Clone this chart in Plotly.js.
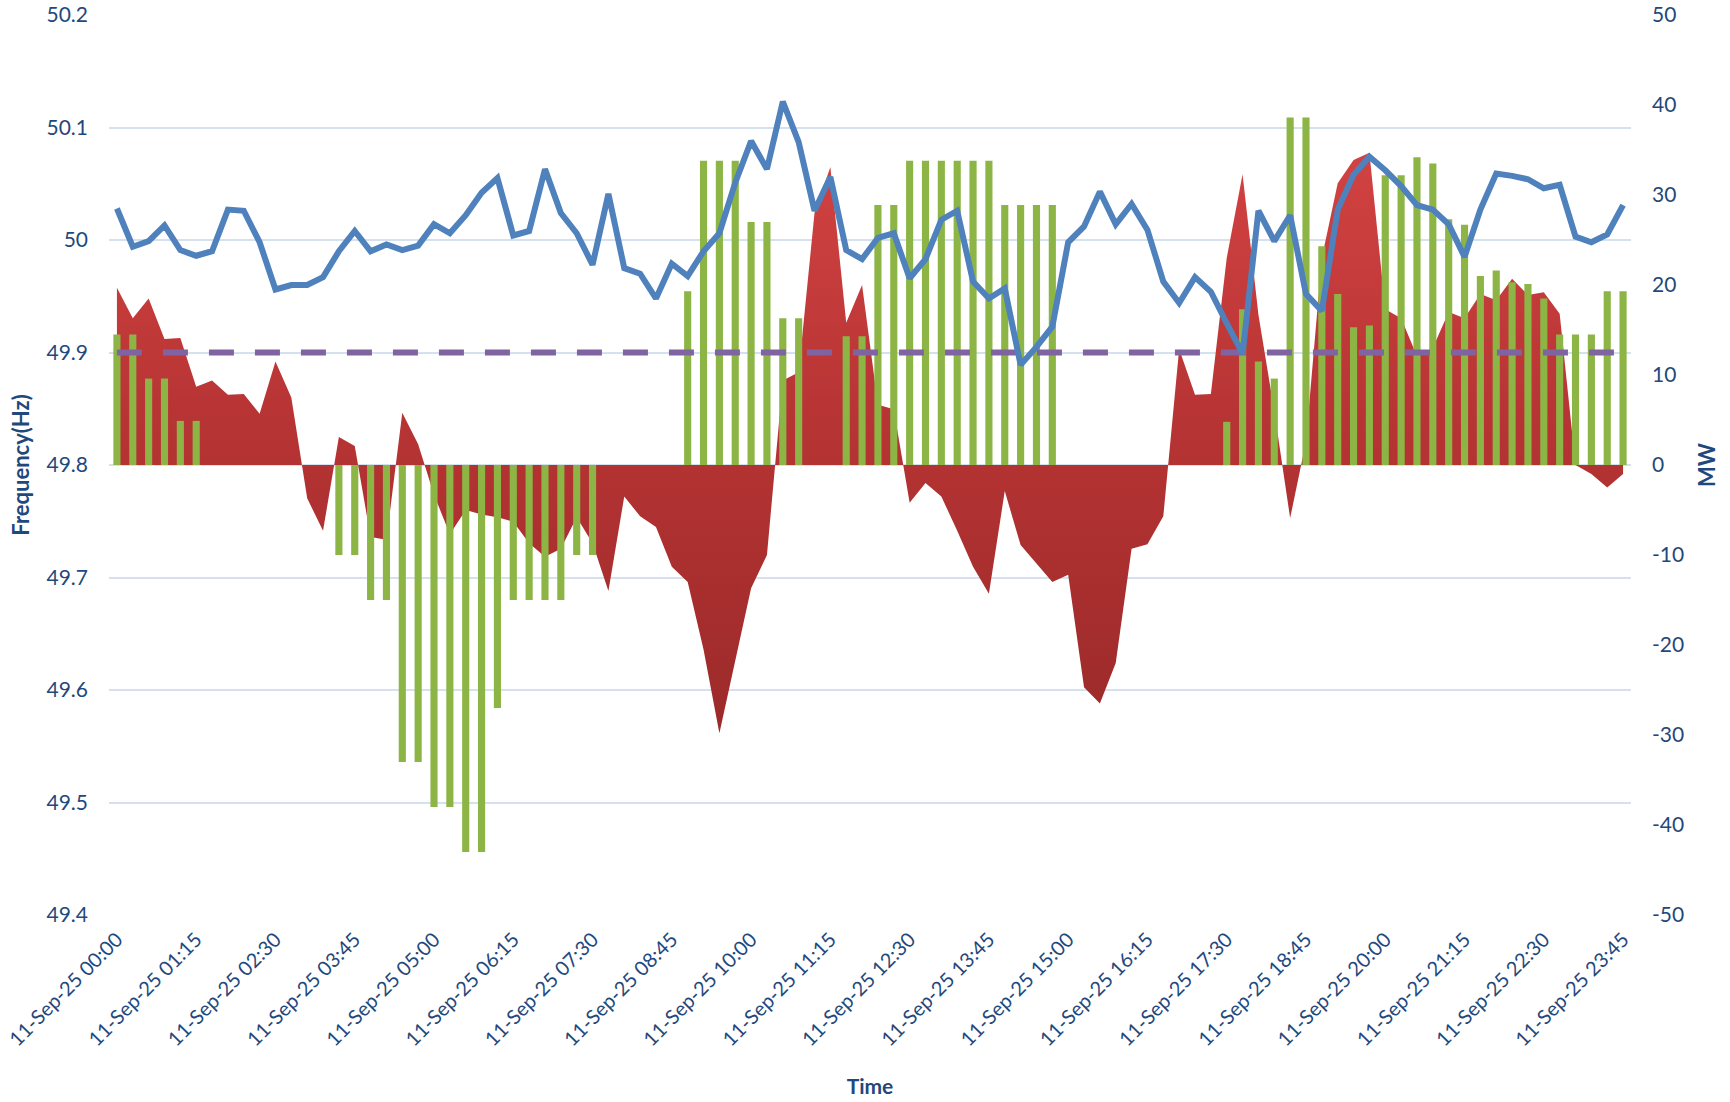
<!DOCTYPE html>
<html>
<head>
<meta charset="utf-8">
<script src="https://cdn.plot.ly/plotly-3.0.1.min.js"></script>
<style>
  html, body { margin: 0; padding: 0; background: #ffffff; }
  #chart { width: 1730px; height: 1102px; }
</style>
</head>
<body>
<div id="chart"></div>
<script>
// ---- data ----
const datePrefix = "11-Sep-25 ";
const times = [
  "00:00","00:15","00:30","00:45","01:00","01:15","01:30","01:45",
  "02:00","02:15","02:30","02:45","03:00","03:15","03:30","03:45",
  "04:00","04:15","04:30","04:45","05:00","05:15","05:30","05:45",
  "06:00","06:15","06:30","06:45","07:00","07:15","07:30","07:45",
  "08:00","08:15","08:30","08:45","09:00","09:15","09:30","09:45",
  "10:00","10:15","10:30","10:45","11:00","11:15","11:30","11:45",
  "12:00","12:15","12:30","12:45","13:00","13:15","13:30","13:45",
  "14:00","14:15","14:30","14:45","15:00","15:15","15:30","15:45",
  "16:00","16:15","16:30","16:45","17:00","17:15","17:30","17:45",
  "18:00","18:15","18:30","18:45","19:00","19:15","19:30","19:45",
  "20:00","20:15","20:30","20:45","21:00","21:15","21:30","21:45",
  "22:00","22:15","22:30","22:45","23:00","23:15","23:30","23:45"
];

// Frequency (Hz), left axis
const frequency = [
  50.028, 49.994, 49.999, 50.013, 49.991, 49.986, 49.990, 50.027,
  50.026, 49.998, 49.956, 49.960, 49.960, 49.967, 49.990, 50.008,
  49.990, 49.996, 49.991, 49.995, 50.014, 50.006, 50.022, 50.042,
  50.055, 50.004, 50.008, 50.063, 50.024, 50.006, 49.978, 50.041,
  49.975, 49.970, 49.948, 49.979, 49.968, 49.990, 50.006, 50.051,
  50.088, 50.063, 50.123, 50.087, 50.026, 50.056, 49.991, 49.983,
  50.002, 50.006, 49.966, 49.983, 50.018, 50.026, 49.963, 49.948,
  49.957, 49.889, 49.905, 49.923, 49.998, 50.012, 50.043, 50.014,
  50.032, 50.009, 49.963, 49.944, 49.967, 49.954, 49.926, 49.899,
  50.026, 49.999, 50.022, 49.952, 49.937, 50.027, 50.058, 50.074,
  50.062, 50.048, 50.031, 50.027, 50.014, 49.985, 50.027, 50.059,
  50.057, 50.054, 50.046, 50.049, 50.003, 49.998, 50.005, 50.031
];

// Frequency limit (Hz), dashed purple line
const frequencyLimit = [
  49.9, 49.9, 49.9, 49.9, 49.9, 49.9, 49.9, 49.9, 49.9, 49.9, 49.9, 49.9,
  49.9, 49.9, 49.9, 49.9, 49.9, 49.9, 49.9, 49.9, 49.9, 49.9, 49.9, 49.9,
  49.9, 49.9, 49.9, 49.9, 49.9, 49.9, 49.9, 49.9, 49.9, 49.9, 49.9, 49.9,
  49.9, 49.9, 49.9, 49.9, 49.9, 49.9, 49.9, 49.9, 49.9, 49.9, 49.9, 49.9,
  49.9, 49.9, 49.9, 49.9, 49.9, 49.9, 49.9, 49.9, 49.9, 49.9, 49.9, 49.9,
  49.9, 49.9, 49.9, 49.9, 49.9, 49.9, 49.9, 49.9, 49.9, 49.9, 49.9, 49.9,
  49.9, 49.9, 49.9, 49.9, 49.9, 49.9, 49.9, 49.9, 49.9, 49.9, 49.9, 49.9,
  49.9, 49.9, 49.9, 49.9, 49.9, 49.9, 49.9, 49.9, 49.9, 49.9, 49.9, 49.9
];

// Deviation (MW), red area, right axis
const deviationMW = [
  19.7, 16.3, 18.5, 14.0, 14.1, 8.7, 9.4, 7.8,
  7.9, 5.7, 11.5, 7.5, -3.7, -7.3, 3.1, 2.1,
  -8.0, -8.3, 5.8, 2.3, -3.3, -7.7, -5.0, -5.5,
  -5.8, -6.3, -8.7, -10.2, -9.3, -5.8, -8.7, -14.0,
  -3.5, -5.7, -6.9, -11.3, -13.0, -20.5, -29.8, -21.7,
  -13.7, -10.0, 9.4, 10.3, 28.0, 33.1, 15.8, 20.0,
  6.7, 6.2, -4.2, -2.0, -3.5, -7.3, -11.3, -14.3,
  -2.9, -8.9, -11.0, -13.0, -12.2, -24.7, -26.5, -22.0,
  -9.3, -8.8, -5.7, 12.9, 7.8, 7.9, 23.0, 32.3,
  16.7, 6.0, -5.9, 2.6, 23.0, 31.3, 33.9, 34.7,
  17.3, 16.3, 12.1, 13.0, 17.0, 16.3, 19.0, 18.3,
  20.7, 18.9, 19.2, 16.8, 0.0, -1.0, -2.5, -1.0
];

// Scheduled / regulation (MW), green bars, right axis
const regulationMW = [
  14.5, 14.5, 9.6, 9.6, 4.9, 4.9, 0, 0,
  0, 0, 0, 0, 0, 0, -10, -10,
  -15, -15, -33, -33, -38, -38, -43, -43,
  -27, -15, -15, -15, -15, -10, -10, 0,
  0, 0, 0, 0, 19.3, 33.8, 33.8, 33.8,
  27, 27, 16.3, 16.3, 0, 0, 14.3, 14.3,
  28.9, 28.9, 33.8, 33.8, 33.8, 33.8, 33.8, 33.8,
  28.9, 28.9, 28.9, 28.9, 0, 0, 0, 0,
  0, 0, 0, 0, 0, 0, 4.8, 17.3,
  11.5, 9.6, 38.6, 38.6, 24.3, 19.0, 15.3, 15.5,
  32.2, 32.2, 34.2, 33.5, 27.3, 26.7, 21.0, 21.6,
  20.3, 20.1, 18.5, 14.5, 14.5, 14.5, 19.3, 19.3
];

// Tick labels
const xTickTimes = ["00:00","01:15","02:30","03:45","05:00","06:15","07:30","08:45","10:00","11:15",
                    "12:30","13:45","15:00","16:15","17:30","18:45","20:00","21:15","22:30","23:45"];
const hzTicks = [49.4, 49.5, 49.6, 49.7, 49.8, 49.9, 50, 50.1, 50.2];
const hzTickText = ["49.4","49.5","49.6","49.7","49.8","49.9","50","50.1","50.2"];
const mwTicks = [-50, -40, -30, -20, -10, 0, 10, 20, 30, 40, 50];
const mwTickText = ["-50","-40","-30","-20","-10","0","10","20","30","40","50"];

// ---- build ----
const categories = times.map(t => datePrefix + t);
const xTickVals = xTickTimes.map(t => datePrefix + t);

const FONT = "Lato, 'Open Sans', 'Liberation Sans', sans-serif";
const TXT = "#1f497d";

const traces = [
  {
    type: "scatter", mode: "lines", name: "Deviation (MW)",
    x: categories, y: deviationMW, xaxis: "x", yaxis: "y",
    fill: "tozeroy",
    line: { width: 0, color: "rgba(0,0,0,0)", shape: "linear" },
    fillcolor: "#b83434",
    fillgradient: { type: "vertical", colorscale: [[0, "#9c2a2a"], [0.5, "#b53333"], [1, "#d24242"]] },
    hoverinfo: "x+y"
  },
  {
    type: "bar", name: "Regulation (MW)",
    x: categories, y: regulationMW, xaxis: "x", yaxis: "y2",
    width: 0.45,
    marker: { color: "#8cb546", line: { width: 0 } }
  },
  {
    type: "scatter", mode: "lines", name: "Frequency limit",
    x: categories, y: frequencyLimit, xaxis: "x", yaxis: "y3",
    line: { color: "#8064a2", width: 6, dash: "25px,21px" }
  },
  {
    type: "scatter", mode: "lines", name: "Frequency (Hz)",
    x: categories, y: frequency, xaxis: "x", yaxis: "y3",
    line: { color: "#4f81bd", width: 6, shape: "linear" }
  }
];

const layout = {
  width: 1730, height: 1102,
  paper_bgcolor: "#ffffff", plot_bgcolor: "#ffffff",
  showlegend: false,
  margin: { l: 109, r: 99, t: 15, b: 187, pad: 0 },
  font: { family: FONT, color: TXT },
  xaxis: {
    type: "category", range: [-0.5, 95.5],
    tickmode: "array", tickvals: xTickVals, ticktext: xTickVals,
    tickangle: -45, ticks: "", showgrid: false, zeroline: false, showline: false,
    ticklabelstandoff: 8,
    tickfont: { family: FONT, size: 20, color: TXT },
    title: { text: "<b>Time</b>", font: { family: FONT, size: 21, color: TXT }, standoff: 30 },
    automargin: false
  },
  yaxis: {
    side: "right", range: [-50, 50],
    tickmode: "array", tickvals: mwTicks, ticktext: mwTickText,
    showgrid: false, zeroline: false, showline: false, ticks: "",
    ticklabelstandoff: 20,
    tickfont: { family: FONT, size: 21, color: TXT },
    title: { text: "<b>MW</b>", font: { family: FONT, size: 22, color: TXT }, standoff: 16 },
    automargin: false
  },
  yaxis2: {
    overlaying: "y", side: "right", range: [-50, 50],
    visible: false, showgrid: false, zeroline: false
  },
  yaxis3: {
    overlaying: "y", side: "left", range: [49.4, 50.2],
    tickmode: "array", tickvals: hzTicks, ticktext: hzTickText,
    showgrid: true, gridcolor: "#d5e1ef", gridwidth: 2,
    zeroline: false, showline: false, ticks: "",
    ticklabelstandoff: 20,
    tickfont: { family: FONT, size: 21, color: TXT },
    title: { text: "<b>Frequency(Hz)</b>", font: { family: FONT, size: 22, color: TXT }, standoff: 10 },
    automargin: false
  }
};

Plotly.newPlot("chart", traces, layout, { staticPlot: true, displayModeBar: false });
</script>
</body>
</html>
